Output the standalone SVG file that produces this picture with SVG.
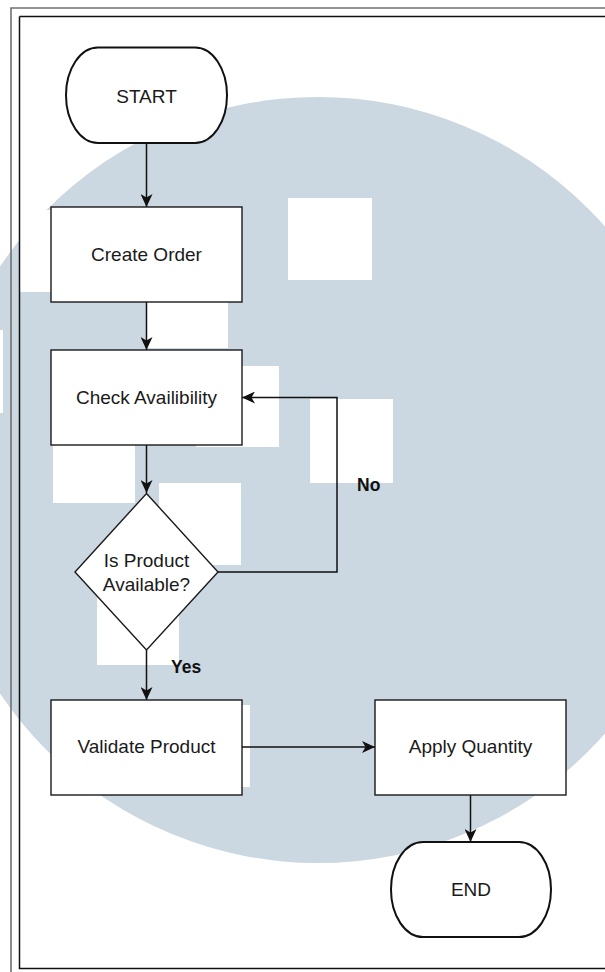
<svg xmlns="http://www.w3.org/2000/svg" width="605" height="972" viewBox="0 0 605 972">
  <defs>
    <marker id="arrow" viewBox="0 0 13 12" refX="13" refY="6" markerWidth="13" markerHeight="12" markerUnits="userSpaceOnUse" orient="auto">
      <path d="M0,0 L13,6 L0,12 L3.5,6 z" fill="#111"/>
    </marker>
  </defs>
  <style>
    .box { fill: #ffffff; stroke: #1a1a1a; stroke-width: 1.4; }
    .term { fill: #ffffff; stroke: #111111; stroke-width: 2; }
    .lbl { font-family: "Liberation Sans", Arial, Helvetica, sans-serif; font-size: 19px; fill: #1a1a1a; text-anchor: middle; }
    .edge-lbl { font-family: "Liberation Sans", Arial, Helvetica, sans-serif; font-size: 17.5px; font-weight: bold; fill: #111; }
    .conn { fill: none; stroke: #111; stroke-width: 1.5; }
    .wm { fill: #ffffff; }
  </style>

  <rect x="0" y="0" width="605" height="972" fill="#ffffff"/>

  <g id="watermark">
    <circle cx="318" cy="480" r="383" fill="#cbd7e1"/>
    <rect class="wm" x="288" y="198" width="84" height="82"/>
    <rect class="wm" x="147" y="266" width="81" height="82"/>
    <rect class="wm" x="196" y="366" width="83" height="81"/>
    <rect class="wm" x="310" y="399" width="83" height="84"/>
    <rect class="wm" x="53" y="421" width="82" height="82"/>
    <rect class="wm" x="159" y="483" width="82" height="82"/>
    <rect class="wm" x="97" y="583" width="82" height="82"/>
    <rect class="wm" x="168" y="705" width="82" height="82"/>
    <rect class="wm" x="20" y="210" width="83" height="82"/>
    <rect class="wm" x="-80" y="330" width="83" height="83"/>
  </g>

  <g id="frame">
    <path d="M11,972 V8 H605" fill="none" stroke="#707070" stroke-width="1.6"/>
    <path d="M19.5,16.5 H605 M19.5,16.5 V968.5 H605" fill="none" stroke="#111" stroke-width="1.5"/>
  </g>

  <g id="connectors">
    <path class="conn" d="M146.5,143 V207" marker-end="url(#arrow)"/>
    <path class="conn" d="M146.5,302 V350" marker-end="url(#arrow)"/>
    <path class="conn" d="M146.5,445 V493" marker-end="url(#arrow)"/>
    <path class="conn" d="M218,572 H337 V397.5 H242" marker-end="url(#arrow)"/>
    <path class="conn" d="M146.5,650 V700" marker-end="url(#arrow)"/>
    <path class="conn" d="M242,747 H375" marker-end="url(#arrow)"/>
    <path class="conn" d="M470.5,795 V842" marker-end="url(#arrow)"/>
    <text class="edge-lbl" x="357" y="491">No</text>
    <text class="edge-lbl" x="171" y="673">Yes</text>
  </g>

  <g id="start">
    <rect class="term" x="66" y="47.5" width="161" height="95.5" rx="32" ry="47.7"/>
    <text class="lbl" x="146.5" y="103">START</text>
  </g>

  <g id="create-order">
    <rect class="box" x="51" y="207" width="191" height="95"/>
    <text class="lbl" x="146.5" y="261">Create Order</text>
  </g>

  <g id="check-availability">
    <rect class="box" x="51" y="350" width="191" height="95"/>
    <text class="lbl" x="146.5" y="404">Check Availibility</text>
  </g>

  <g id="is-available">
    <polygon class="box" points="146.5,493.5 218,572 146.5,650 75,572"/>
    <text class="lbl" x="146.5" y="566.5">Is Product</text>
    <text class="lbl" x="146.5" y="590.5">Available?</text>
  </g>

  <g id="validate-product">
    <rect class="box" x="51" y="700" width="191" height="95"/>
    <text class="lbl" x="146.5" y="753">Validate Product</text>
  </g>

  <g id="apply-quantity">
    <rect class="box" x="375" y="700" width="191" height="95"/>
    <text class="lbl" x="470.5" y="753">Apply Quantity</text>
  </g>

  <g id="end">
    <rect class="term" x="391" y="842" width="160" height="95" rx="32" ry="47.5"/>
    <text class="lbl" x="471" y="896">END</text>
  </g>
</svg>
